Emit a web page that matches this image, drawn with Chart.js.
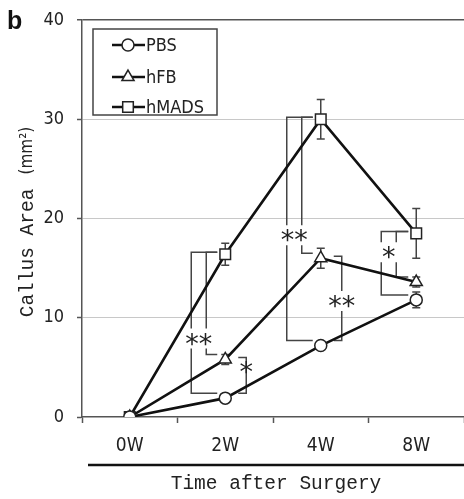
<!DOCTYPE html>
<html>
<head>
<meta charset="utf-8">
<script src="https://cdn.jsdelivr.net/npm/chart.js@4/dist/chart.umd.min.js"></script>
<style>
  body { margin: 0; background: #fff; }
  canvas { display: block; }
</style>
</head>
<body>
<canvas id="callusChart" width="464" height="499"></canvas>
<script>
// values (callus area, mm2)
const weeks = ["0W", "2W", "4W", "8W"];
const pbs = [0, 1.9, 7.2, 11.8];
const hfb = [0, 5.8, 16.0, 13.6];
const hmads = [0, 16.4, 30.0, 18.5];
const pbsErr = [0, 0.3, 0.3, 0.8];
const hfbErr = [0, 0.5, 1.0, 0.5];
const hmadsErr = [0, 1.1, 2.0, 2.5];
const yTicks = [0, 10, 20, 30, 40];

// significance brackets: category index, upper / lower series (dataset index)
const brackets = [
  { at: 1, top: 2, bottom: 0, dx: -34, tick: "toPoint" },
  { at: 1, top: 2, bottom: 1, dx: -19, tick: "toPoint" },
  { at: 1, top: 1, bottom: 0, dx: 21, tick: "short" },
  { at: 2, top: 2, bottom: 0, dx: -34, tick: "toPoint" },
  { at: 2, top: 2, bottom: 1, dx: -19, tick: "toPoint" },
  { at: 2, top: 1, bottom: 0, dx: 21, tick: "short" },
  { at: 3, top: 2, bottom: 0, dx: -35, tick: "toPoint" },
  { at: 3, top: 2, bottom: 1, dx: -20, tick: "toPoint" }
];
const stars = [
  { at: 1, dx: -26.5, value: 7.9, text: "**" },
  { at: 1, dx: 21, value: 5.0, text: "*" },
  { at: 2, dx: -26.5, value: 18.3, text: "**" },
  { at: 2, dx: 21, value: 11.7, text: "**" },
  { at: 3, dx: -27.5, value: 16.6, text: "*" }
];

const errs = [pbsErr, hfbErr, hmadsErr];
const narrow = "'DejaVu Sans Condensed', 'Liberation Sans'";

const extras = {
  id: "extras",
  beforeDatasetsDraw(chart) {
    const ctx = chart.ctx;
    const x = chart.scales.x, y = chart.scales.y;
    ctx.save();
    ctx.strokeStyle = "#444";
    ctx.lineWidth = 1.5;

    // error bars
    chart.data.datasets.forEach((ds, i) => {
      ds.data.forEach((v, j) => {
        const e = errs[i][j];
        if (!e) return;
        const px = x.getPixelForValue(j);
        const y1 = y.getPixelForValue(v + e), y2 = y.getPixelForValue(v - e);
        ctx.beginPath();
        ctx.moveTo(px, y1); ctx.lineTo(px, y2);
        ctx.moveTo(px - 4, y1); ctx.lineTo(px + 4, y1);
        ctx.moveTo(px - 4, y2); ctx.lineTo(px + 4, y2);
        ctx.stroke();
      });
    });

    // brackets
    brackets.forEach(b => {
      const cx = x.getPixelForValue(b.at);
      const bx = cx + b.dx;
      const yt = y.getPixelForValue(chart.data.datasets[b.top].data[b.at]) - 2;
      const yb = y.getPixelForValue(chart.data.datasets[b.bottom].data[b.at]) - 5;
      const tx = b.tick === "toPoint" ? cx - 8 : bx - 8;
      const gaps = stars
        .filter(s => s.at === b.at && Math.abs(cx + s.dx - bx) < 16)
        .map(s => y.getPixelForValue(s.value));
      ctx.beginPath();
      ctx.moveTo(tx, yt); ctx.lineTo(bx, yt);
      let cur = yt;
      gaps.sort((a, c) => a - c).forEach(g => {
        if (g - 10 > cur && g + 10 < yb) {
          ctx.lineTo(bx, g - 10);
          cur = g + 10;
          ctx.moveTo(bx, cur);
        }
      });
      ctx.lineTo(bx, yb); ctx.lineTo(tx, yb);
      ctx.stroke();
    });

    ctx.fillStyle = "#222";
    ctx.font = "27px 'DejaVu Sans'";
    ctx.textAlign = "center";
    ctx.textBaseline = "alphabetic";
    stars.forEach(s => {
      const px = x.getPixelForValue(s.at) + s.dx;
      const py = y.getPixelForValue(s.value);
      ctx.fillText(s.text, px, py + 27 * 0.52);
    });
    ctx.restore();
  },
  afterDraw(chart) {
    const ctx = chart.ctx;
    ctx.save();

    // legend box
    ctx.strokeStyle = "#444";
    ctx.lineWidth = 1.5;
    ctx.strokeRect(93, 29, 124, 86);
    const rows = [45, 77, 107];
    chart.data.datasets.forEach((ds, i) => {
      const ly = rows[i];
      ctx.strokeStyle = "#111";
      ctx.lineWidth = 2.5;
      ctx.beginPath();
      ctx.moveTo(112, ly); ctx.lineTo(145, ly);
      ctx.stroke();
      ctx.fillStyle = "#fff";
      ctx.strokeStyle = "#222";
      ctx.lineWidth = 1.5;
      Chart.helpers.drawPoint(ctx, { pointStyle: ds.pointStyle, radius: ds.pointRadius, rotation: 0, borderWidth: 1.5 }, 128, ly);
      ctx.fillStyle = "#222";
      ctx.font = "18px " + narrow;
      ctx.textAlign = "left";
      ctx.textBaseline = "middle";
      ctx.fillText(ds.label, 146, ly + 1);
    });

    // axis rule and titles
    ctx.strokeStyle = "#111";
    ctx.lineWidth = 2.5;
    ctx.beginPath();
    ctx.moveTo(88, 465); ctx.lineTo(464, 465);
    ctx.stroke();

    ctx.fillStyle = "#222";
    ctx.textAlign = "center";
    ctx.textBaseline = "middle";
    ctx.font = "19.5px 'Liberation Mono'";
    ctx.fillText("Time after Surgery", 276, 484);

    ctx.translate(28, 222);
    ctx.rotate(-Math.PI / 2);
    ctx.textAlign = "left";
    ctx.font = "19.5px 'Liberation Mono'";
    const w1 = ctx.measureText("Callus Area").width;
    ctx.font = "17px " + narrow;
    const w2 = ctx.measureText("(mm²)").width;
    const start = -(w1 + 14 + w2) / 2;
    ctx.font = "19.5px 'Liberation Mono'";
    ctx.fillText("Callus Area", start, 0);
    ctx.font = "17px " + narrow;
    ctx.fillText("(mm²)", start + w1 + 14, 0);
    ctx.restore();

    ctx.save();
    ctx.fillStyle = "#111";
    ctx.font = "bold 25px 'Liberation Sans'";
    ctx.textAlign = "left";
    ctx.textBaseline = "alphabetic";
    ctx.fillText("b", 7, 29);
    ctx.restore();
  }
};

const pointBase = {
  borderColor: "#111",
  borderWidth: 2.6,
  pointBackgroundColor: "#fff",
  pointBorderColor: "#222",
  pointBorderWidth: 1.5,
  fill: false,
  tension: 0
};

new Chart(document.getElementById("callusChart"), {
  type: "line",
  data: {
    labels: weeks,
    datasets: [
      Object.assign({ label: "PBS", data: pbs, pointStyle: "circle", pointRadius: 6 }, pointBase),
      Object.assign({ label: "hFB", data: hfb, pointStyle: "triangle", pointRadius: 7 }, pointBase),
      Object.assign({ label: "hMADS", data: hmads, pointStyle: "rect", pointRadius: 7.5 }, pointBase)
    ]
  },
  options: {
    responsive: false,
    animation: false,
    layout: { autoPadding: false, padding: { top: 20, left: 0, right: 0, bottom: 0 } },
    plugins: { legend: { display: false }, tooltip: { enabled: false } },
    scales: {
      x: {
        offset: true,
        grid: { offset: true, drawOnChartArea: false, tickLength: 6, tickColor: "#555", tickWidth: 1.5 },
        border: { color: "#555", width: 1.5 },
        ticks: { color: "#222", padding: 12, font: { family: narrow, size: 19 } },
        afterFit: s => { s.height = 82; s.paddingLeft = 0; s.paddingRight = 0; }
      },
      y: {
        min: 0,
        max: 40,
        afterBuildTicks: s => { s.ticks = yTicks.map(v => ({ value: v })); },
        grid: {
          color: c => c.tick.value === 40 ? "#555" : (c.tick.value === 0 ? "rgba(0,0,0,0)" : "#c8c8c8"),
          lineWidth: c => c.tick.value === 40 ? 1.5 : 1,
          tickLength: 5,
          tickColor: "#555",
          tickWidth: 1.5
        },
        border: { color: "#555", width: 1.5 },
        ticks: { color: "#222", padding: 13, font: { family: narrow, size: 18 } },
        afterFit: s => { s.width = 82; s.paddingTop = 0; s.paddingBottom = 0; }
      }
    }
  },
  plugins: [extras]
});
</script>
</body>
</html>
